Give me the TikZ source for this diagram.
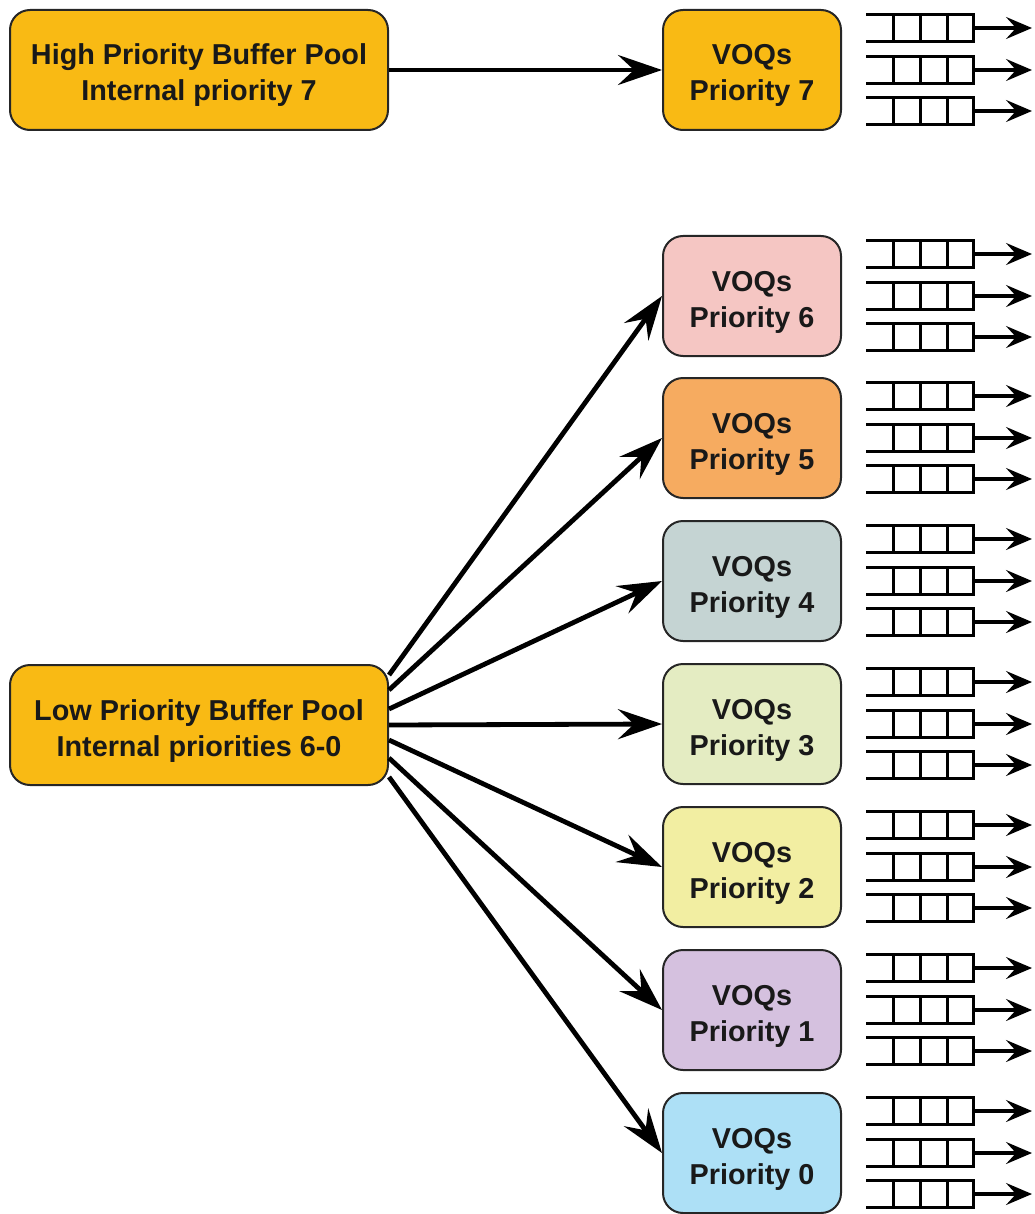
\documentclass[tikz,border=0pt]{standalone}
\usepackage{fontspec}
\setmainfont{Liberation Sans}
\usetikzlibrary{arrows.meta,calc}
\definecolor{poolcol}{HTML}{F9BA14}
\definecolor{voqsix}{HTML}{F5C6C3}
\definecolor{voqfive}{HTML}{F6AB60}
\definecolor{voqfour}{HTML}{C5D4D3}
\definecolor{voqthree}{HTML}{E4ECC2}
\definecolor{voqtwo}{HTML}{F2EEA2}
\definecolor{voqone}{HTML}{D5C1DF}
\definecolor{voqzero}{HTML}{ADE0F6}

\begin{document}
\begin{tikzpicture}[x=0.5pt,y=-0.5pt]
  \tikzstyle{box}=[draw=black!85,line width=1pt,rounded corners=10pt,minimum height=60pt,align=center,text height=31pt,text depth=0pt,text=black!90,font=\fontsize{14.4}{18}\selectfont\bfseries];
  \tikzstyle{flow}=[line width=2.4pt,-{Stealth[length=22pt,width=15pt,inset=8pt]}];
  \tikzstyle{qline}=[line width=1.5pt,line cap=rect];
  \tikzstyle{qout}=[line width=1.6pt,-{Stealth[length=13pt,width=11pt,inset=5pt]}];
  \useasboundingbox (0,0) rectangle (1034,1214);
  \node[box,fill=poolcol,minimum width=189pt] (highpool) at (199,70) {High Priority Buffer Pool\\Internal priority 7};
  \node[box,fill=poolcol,minimum width=189pt] (lowpool) at (199,725) {Low Priority Buffer Pool\\Internal priorities 6-0};
  \foreach \prio/\col/\ypos in {7/poolcol/70,6/voqsix/296,5/voqfive/438,4/voqfour/581,3/voqthree/724,2/voqtwo/867,1/voqone/1010,0/voqzero/1153}{
    \node[box,fill=\col,minimum width=89pt] (voq\prio) at (752,\ypos) {VOQs\\Priority \prio};
    \foreach \dy/\row in {-42/a,0/b,41/c}{
      \draw[qline] (867,\ypos+\dy-13.5) -- (973,\ypos+\dy-13.5) -- (973,\ypos+\dy+13.5) -- (867,\ypos+\dy+13.5);
      \foreach \qx in {893,920,947}{
        \draw[qline] (\qx,\ypos+\dy-13.5) -- (\qx,\ypos+\dy+13.5);
      }
      \coordinate (qtail\prio\row) at (973,\ypos+\dy);
      \coordinate (qhead\prio\row) at (1032,\ypos+\dy);
      \draw[qout] (qtail\prio\row) -- (qhead\prio\row);
    }
  }
  \draw[flow] (highpool.east) -- (voq7.west);
  \foreach \prio/\dy in {6/-50,5/-35,4/-16,3/0,2/15,1/33,0/52}{
    \coordinate (src\prio) at ($(lowpool.east)+(0,\dy)$);
    \draw[flow] (src\prio) -- (voq\prio.west);
  }
\end{tikzpicture}
\end{document}
